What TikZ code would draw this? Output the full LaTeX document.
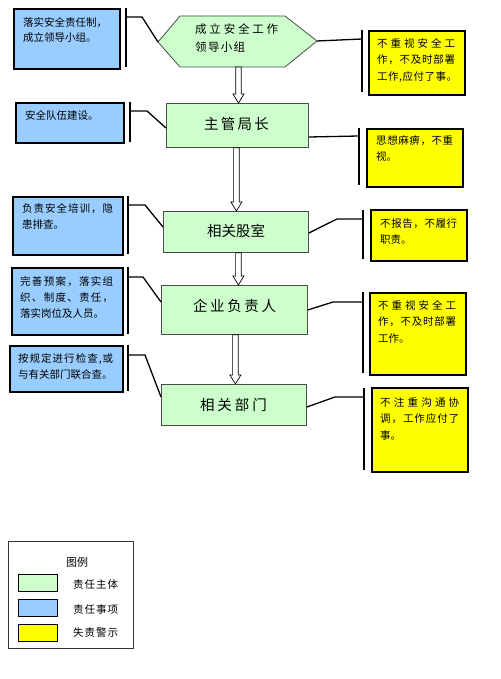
\documentclass[tikz,border=0pt]{standalone}
\usepackage{fontspec}
\setmainfont{Noto Sans CJK SC}
\usetikzlibrary{calc}
\definecolor{gfill}{HTML}{CCFFCC}
\definecolor{bfill}{HTML}{99CCFF}
\definecolor{yfill}{HTML}{FFFF00}
\ExplSyntaxOn
\NewDocumentCommand\spreadline{mm}{\makebox[#1][s]{\tl_map_inline:nn{#2}{##1\hfill}\unskip}}
\ExplSyntaxOff
\tikzset{
  greenbox/.style={draw=black!70, line width=0.8pt, fill=gfill, inner sep=0, anchor=north west},
  bluebox/.style={draw=black, line width=2pt, fill=bfill, inner sep=0, anchor=north west},
  yellowbox/.style={draw=black, line width=2pt, fill=yfill, inner sep=0, anchor=north west},
  note/.style={anchor=north west, inner sep=0, align=left, font=\fontsize{10.5}{16.5}\selectfont},
  titletext/.style={inner sep=0, font=\fontsize{14.5}{16}\selectfont},
  bracket/.style={line width=2pt},
  link/.style={line width=1.3pt},
  hollowarr/.style={draw=black, line width=0.7pt, fill=white},
  swatch/.style={draw=black, line width=1.2pt, inner sep=0, anchor=north west, minimum width=39pt, minimum height=17pt},
  legtext/.style={anchor=west, inner sep=0, font=\fontsize{10.5}{12}\selectfont},
}
\newcommand\hollow[3]{\draw[hollowarr] let \p1=(#1), \p2=(#2) in
  (\x1+#3pt-2.8pt,\y1) -- (\x1+#3pt-2.8pt,\y2+9pt) -- (\x1+#3pt-5.5pt,\y2+9pt) -- (\x1+#3pt,\y2)
  -- (\x1+#3pt+5.5pt,\y2+9pt) -- (\x1+#3pt+2.8pt,\y2+9pt) -- (\x1+#3pt+2.8pt,\y1) -- cycle;}
\begin{document}
\begin{tikzpicture}[x=1pt,y=-1pt]
\useasboundingbox (0,0) rectangle (500,679);
\fill[white] (0,0) rectangle (500,679);

% ---------- hexagon ----------
\coordinate (hexL) at (158,42);
\coordinate (hexR) at (317,41);
\coordinate (hexB) at (237,67);
\draw[line width=0.8pt, draw=black!70, fill=gfill] (hexL) -- (180,16) -- (285,16) -- (hexR) -- (285,67) -- (180,67) -- cycle;
\node[anchor=north west, inner sep=0, align=left, font=\fontsize{11.5}{18}\selectfont] (hext) at (195,23.5)
  {\spreadline{83pt}{成立安全工作}\\\spreadline{50pt}{领导小组}};

% ---------- green boxes ----------
\node[greenbox, minimum width=142pt, minimum height=44pt] (g2) at (166,103) {};
\node[titletext] (g2t) at (236.5,124) {\spreadline{65pt}{主管局长}};
\node[greenbox, minimum width=145pt, minimum height=41pt] (g3) at (163,211) {};
\node[titletext] (g3t) at (236,231) {\spreadline{58pt}{相关股室}};
\node[greenbox, minimum width=146pt, minimum height=49pt] (g4) at (161,285) {};
\node[titletext] (g4t) at (234.5,306) {\spreadline{83pt}{企业负责人}};
\node[greenbox, minimum width=145pt, minimum height=41pt] (g5) at (161,384) {};
\node[titletext] (g5t) at (233.5,405) {\spreadline{67pt}{相关部门}};

% ---------- blue boxes ----------
\node[bluebox, minimum width=106pt, minimum height=60pt] (b1) at (13,8) {};
\node[note, font=\fontsize{10.5}{15}\selectfont] (b1t) at (23,17) {\spreadline{84pt}{落实安全责任制，}\\成立领导小组。};
\node[bluebox, minimum width=108pt, minimum height=40pt] (b2) at (15,102) {};
\node[note] (b2t) at (25,110) {安全队伍建设。};
\node[bluebox, minimum width=110pt, minimum height=58pt] (b3) at (12,196) {};
\node[note] (b3t) at (22,203) {\spreadline{91pt}{负责安全培训，隐}\\患排查。};
\node[bluebox, minimum width=111pt, minimum height=67pt] (b4) at (11,267) {};
\node[note, font=\fontsize{10.5}{16}\selectfont] (b4t) at (20,276) {\spreadline{93pt}{完善预案，落实组}\\\spreadline{93pt}{织、制度、责任，}\\落实岗位及人员。};
\node[bluebox, minimum width=113pt, minimum height=46pt] (b5) at (9,345) {};
\node[note] (b5t) at (18,353) {\spreadline{95pt}{按规定进行检查,或}\\与有关部门联合查。};

% ---------- yellow boxes ----------
\node[yellowbox, minimum width=96pt, minimum height=64pt] (y1) at (368,30) {};
\node[note] (y1t) at (377,38) {\spreadline{78pt}{不重视安全工}\\\spreadline{78pt}{作，不及时部署}\\\spreadline{80pt}{工作,应付了事。}};
\node[yellowbox, minimum width=96pt, minimum height=58pt] (y2) at (366,128) {};
\node[note] (y2t) at (376,135) {\spreadline{77pt}{思想麻痹，不重}\\视。};
\node[yellowbox, minimum width=96pt, minimum height=51pt] (y3) at (370,209) {};
\node[note] (y3t) at (380,218) {\spreadline{77pt}{不报告，不履行}\\职责。};
\node[yellowbox, minimum width=96pt, minimum height=82pt] (y4) at (369,292) {};
\node[note] (y4t) at (378,300) {\spreadline{78pt}{不重视安全工}\\\spreadline{78pt}{作，不及时部署}\\工作。};
\node[yellowbox, minimum width=96pt, minimum height=84pt] (y5) at (371,387) {};
\node[note] (y5t) at (380,397) {\spreadline{79pt}{不注重沟通协}\\\spreadline{79pt}{调，工作应付了}\\事。};

% ---------- brackets ----------
\draw[bracket] (126,8) -- (126,67);
\draw[bracket] (362,30) -- (362,92);
\draw[bracket] (130,102) -- (130,142);
\draw[bracket] (359,128) -- (359,185);
\draw[bracket] (128,196) -- (128,254);
\draw[bracket] (363,210) -- (363,259);
\draw[bracket] (128,267) -- (128,334);
\draw[bracket] (363,292) -- (363,373);
\draw[bracket] (128,345) -- (128,391);
\draw[bracket] (364,388) -- (364,470);

% ---------- connectors ----------
\draw[link] (126,17) -- (142,17) -- (hexL);
\draw[link] (hexR) -- (362,39);
\draw[link] (130,111) -- (147,111) -- (g2.west |- 0,128);
\draw[link] (g2.east |- 0,137) -- (359,136);
\draw[link] (128,205) -- (145,205) -- (g3.west |- 0,227);
\draw[link] (g3.east |- 0,233) -- (337,219) -- (363,219);
\draw[link] (128,277) -- (143,277) -- (g4.west |- 0,302);
\draw[link] (g4.east |- 0,310) -- (333,302) -- (363,302);
\draw[link] (128,355) -- (145,355) -- (g5.west |- 0,397);
\draw[link] (g5.east |- 0,407) -- (335,397) -- (364,397);

% ---------- hollow arrows ----------
\hollow{hexB}{g2.north}{1.5}
\hollow{g2.south}{g3.north}{-1}
\hollow{g3.south}{g4.north}{2.5}
\hollow{g4.south}{g5.north}{1}

% ---------- legend ----------
\node[draw=black!80, line width=0.8pt, minimum width=125pt, minimum height=107pt, anchor=north west, inner sep=0] (leg) at (8,541) {};
\node[inner sep=0, font=\fontsize{11}{12}\selectfont] (legt) at (77,562) {图例};
\node[swatch, fill=gfill] (sw1) at (18,574) {};
\node[legtext] (lt1) at (73,585) {\spreadline{45pt}{责任主体}};
\node[swatch, fill=bfill] (sw2) at (18,599) {};
\node[legtext] (lt2) at (73,610) {\spreadline{45pt}{责任事项}};
\node[swatch, fill=yfill] (sw3) at (18,624) {};
\node[legtext] (lt3) at (73,633) {\spreadline{45pt}{失责警示}};
\end{tikzpicture}
\end{document}
